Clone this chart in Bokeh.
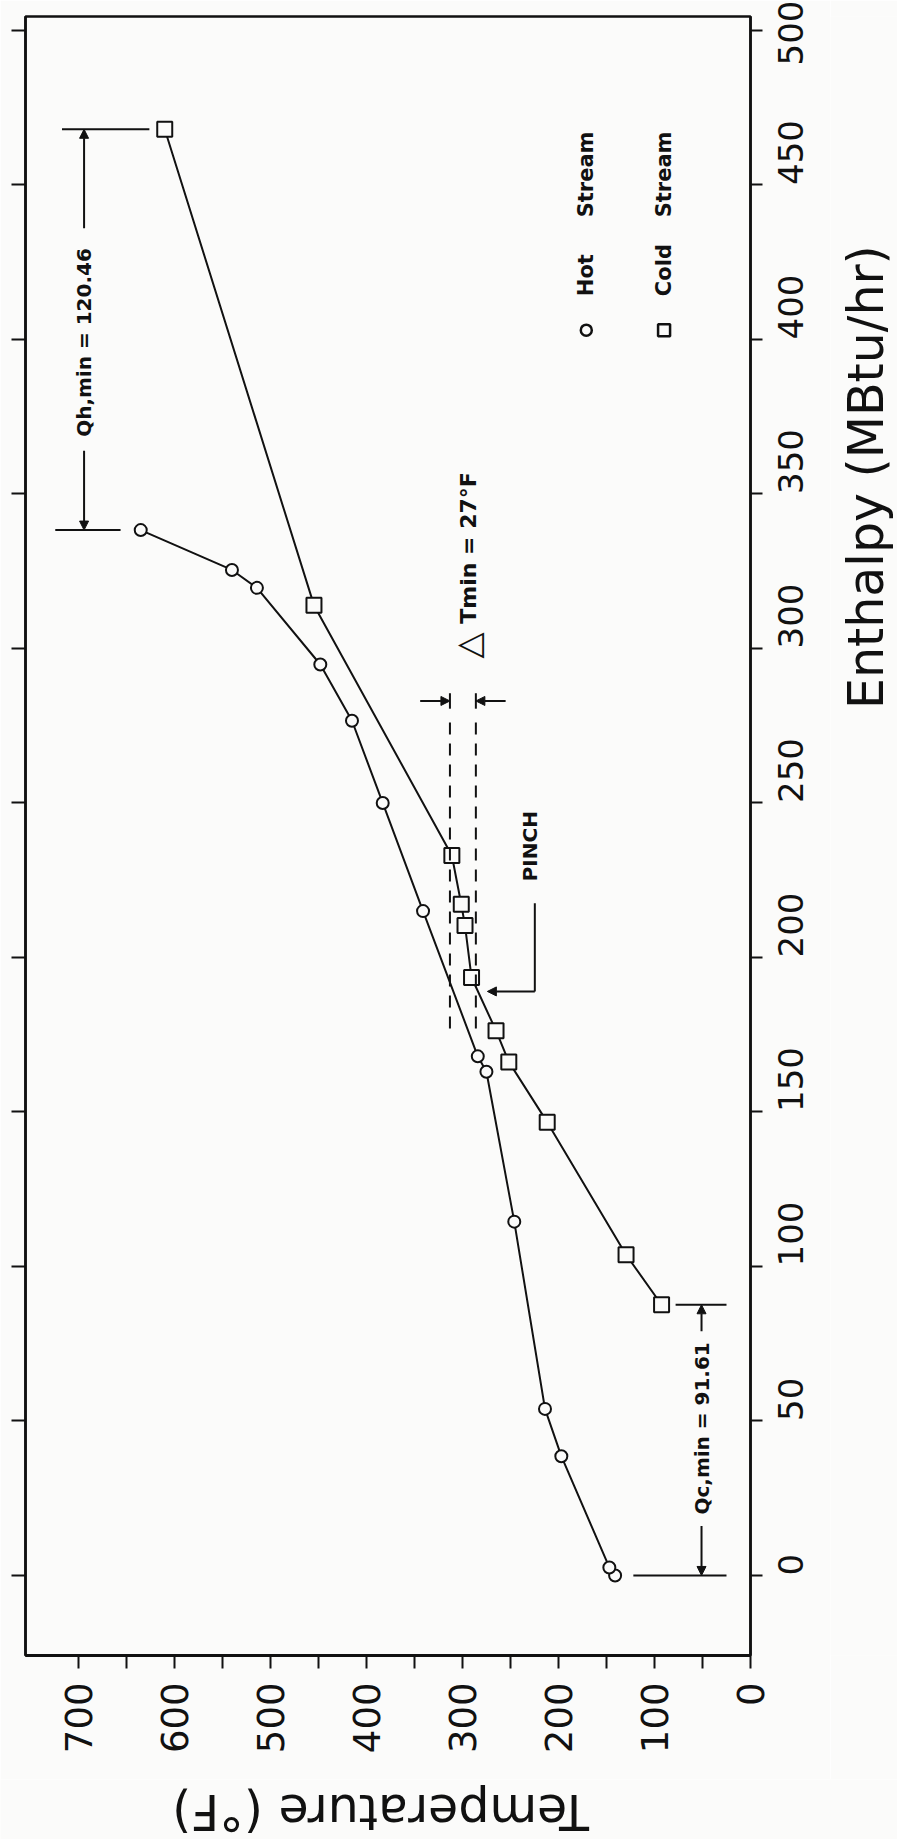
import math
from bokeh.plotting import figure
from bokeh.layouts import row, column
from bokeh.models import Range1d, LinearAxis, FixedTicker, Label, Arrow, NormalHead
from bokeh.embed import file_html
from bokeh.resources import INLINE

# ---------------- data ----------------
hot_enthalpy = [0, 2.6, 38.6, 53.9, 114.5, 163, 168, 215, 250, 276.6, 294.8, 319.6, 325.4, 338.3]
hot_temp = [141, 147, 197, 214, 246, 275, 284, 341, 383, 415, 448, 514, 540, 635]

cold_enthalpy = [87.6, 103.8, 146.7, 166.2, 176.3, 193.5, 210.3, 217.2, 233, 314, 468]
cold_temp = [92.6, 129.6, 211.7, 251.7, 265, 290.5, 297.3, 301.2, 311, 454.6, 610]

temp_ticks = [0, 100, 200, 300, 400, 500, 600, 700]
temp_minor_ticks = [50, 150, 250, 350, 450, 550, 650]
enthalpy_ticks = [0, 50, 100, 150, 200, 250, 300, 350, 400, 450, 500]

# pinch / minimum approach temperatures
pinch_temps = [313, 286]          # dashed lines, delta = 27 F
pinch_span = [177, 276]           # enthalpy extent of dashed lines
qh_levels = [468, 338.3]          # Qh,min bracket (cold top, hot top)
qc_levels = [87.6, 0]             # Qc,min bracket (cold bottom, hot bottom)

BG = "#fbfbfa"
INK = "#111111"

TOTAL_W, TOTAL_H = 897, 1839
MAIN_W = 830
TITLE_W = TOTAL_W - MAIN_W
BOTTOM_H = 60
MAIN_H = TOTAL_H - BOTTOM_H

p = figure(width=MAIN_W, height=MAIN_H,
           x_range=Range1d(755, 0), y_range=Range1d(-25.9, 504.5),
           x_axis_location=None, y_axis_location=None,
           output_backend="svg", toolbar_location=None,
           min_border_left=25, min_border_right=MAIN_W - 25 - 725,
           min_border_top=16, min_border_bottom=MAIN_H - 16 - 1639,
           background_fill_color=BG, border_fill_color=BG,
           outline_line_color=INK, outline_line_width=2.5)
p.grid.visible = False

bottom = LinearAxis(ticker=FixedTicker(ticks=temp_ticks, minor_ticks=temp_minor_ticks),
                    major_label_orientation=math.pi / 2,
                    major_label_text_font="DejaVu Sans", major_label_text_font_size="37px",
                    major_label_text_color=INK, major_label_standoff=14,
                    major_tick_out=13, major_tick_in=0, minor_tick_out=13, minor_tick_in=0,
                    axis_line_width=3, axis_line_color=INK,
                    major_tick_line_width=2, minor_tick_line_width=2,
                    major_tick_line_color=INK, minor_tick_line_color=INK)
p.add_layout(bottom, "below")

right = LinearAxis(ticker=FixedTicker(ticks=enthalpy_ticks),
                   major_label_orientation=math.pi / 2,
                   major_label_text_font="DejaVu Sans", major_label_text_font_size="34px",
                   major_label_text_color=INK, major_label_standoff=28,
                   major_tick_out=12, major_tick_in=0, minor_tick_out=0, minor_tick_in=0,
                   axis_line_width=2.5, axis_line_color=INK,
                   major_tick_line_width=2, major_tick_line_color=INK)
p.add_layout(right, "right")

left = LinearAxis(ticker=FixedTicker(ticks=enthalpy_ticks),
                  major_label_text_color=None, major_label_text_font_size="2px",
                  major_label_standoff=0,
                  major_tick_out=14, major_tick_in=0, minor_tick_out=0, minor_tick_in=0,
                  axis_line_width=2.5, axis_line_color=INK,
                  major_tick_line_width=2, major_tick_line_color=INK)
p.add_layout(left, "left")

# ---------------- curves ----------------
p.line(hot_temp, hot_enthalpy, line_color=INK, line_width=2)
p.scatter(hot_temp, hot_enthalpy, marker="circle", size=12,
          fill_color=BG, line_color=INK, line_width=2)
p.line(cold_temp, cold_enthalpy, line_color=INK, line_width=2)
p.scatter(cold_temp, cold_enthalpy, marker="square", size=15,
          fill_color=BG, line_color=INK, line_width=2)

# ---------------- pinch dashed lines and delta T ----------------
p.segment(x0=pinch_temps, y0=[pinch_span[0]] * 2, x1=pinch_temps, y1=[pinch_span[1]] * 2,
          line_color=INK, line_width=2, line_dash="12 9")
dt_level = 283
p.segment(x0=pinch_temps, y0=[dt_level - 2.5] * 2, x1=pinch_temps, y1=[dt_level + 2.5] * 2,
          line_color=INK, line_width=2)
head = dict(size=9, fill_color=INK, line_color=INK)
p.add_layout(Arrow(end=NormalHead(**head), x_start=pinch_temps[0] + 31, y_start=dt_level,
                   x_end=pinch_temps[0], y_end=dt_level, line_color=INK, line_width=2))
p.add_layout(Arrow(end=NormalHead(**head), x_start=pinch_temps[1] - 31, y_start=dt_level,
                   x_end=pinch_temps[1], y_end=dt_level, line_color=INK, line_width=2))
p.add_layout(Label(x=294, y=301, text="△", angle=math.pi / 2, text_align="center",
                   text_baseline="middle", text_font="DejaVu Sans", text_font_size="34px",
                   text_color=INK))
p.add_layout(Label(x=294, y=308, text="Tmin = 27°F", angle=math.pi / 2, text_align="left",
                   text_baseline="middle", text_font="DejaVu Sans", text_font_size="22px",
                   text_font_style="bold", text_color=INK))

# PINCH label with leader
p.add_layout(Label(x=230, y=236, text="PINCH", angle=math.pi / 2, text_align="center",
                   text_baseline="middle", text_font="DejaVu Sans", text_font_size="20px",
                   text_font_style="bold", text_color=INK))
p.segment(x0=[224.6], y0=[217.5], x1=[224.6], y1=[189], line_color=INK, line_width=2)
p.add_layout(Arrow(end=NormalHead(**head), x_start=224.6, y_start=189, x_end=274, y_end=189,
                   line_color=INK, line_width=2))

# ---------------- Qh,min bracket ----------------
p.segment(x0=[717, 724], y0=qh_levels, x1=[626, 656], y1=qh_levels, line_color=INK, line_width=2)
p.add_layout(Arrow(end=NormalHead(**head), x_start=694, y_start=436, x_end=694, y_end=qh_levels[0],
                   line_color=INK, line_width=2))
p.add_layout(Arrow(end=NormalHead(**head), x_start=694, y_start=364, x_end=694, y_end=qh_levels[1],
                   line_color=INK, line_width=2))
p.add_layout(Label(x=694, y=399, text="Qh,min = 120.46", angle=math.pi / 2, text_align="center",
                   text_baseline="middle", text_font="DejaVu Sans", text_font_size="20px",
                   text_font_style="bold", text_color=INK))

# ---------------- Qc,min bracket ----------------
p.segment(x0=[78, 122], y0=qc_levels, x1=[25, 25], y1=qc_levels, line_color=INK, line_width=2)
p.add_layout(Arrow(end=NormalHead(**head), x_start=51, y_start=79, x_end=51, y_end=qc_levels[0],
                   line_color=INK, line_width=2))
p.add_layout(Arrow(end=NormalHead(**head), x_start=51, y_start=16, x_end=51, y_end=qc_levels[1],
                   line_color=INK, line_width=2))
p.add_layout(Label(x=51, y=47.6, text="Qc,min = 91.61", angle=math.pi / 2, text_align="center",
                   text_baseline="middle", text_font="DejaVu Sans", text_font_size="20px",
                   text_font_style="bold", text_color=INK))

# ---------------- legend ----------------
legend_temps = [171, 90]
legend_level = 403
legend_words = [["Hot", "Stream"], ["Cold", "Stream"]]
word_levels = [414, 439.5]
p.scatter(x=[legend_temps[0]], y=[legend_level], marker="circle", size=11,
          fill_color=BG, line_color=INK, line_width=2.5)
p.scatter(x=[legend_temps[1]], y=[legend_level], marker="square", size=12,
          fill_color=BG, line_color=INK, line_width=2.5)
for tx, words in zip(legend_temps, legend_words):
    for lvl, w in zip(word_levels, words):
        p.add_layout(Label(x=tx, y=lvl, text=w, angle=math.pi / 2, text_align="left",
                           text_baseline="middle", text_font="DejaVu Sans",
                           text_font_size="21px", text_font_style="bold", text_color=INK))

# ---------------- enthalpy axis title (narrow strip to the right) ----------------
t = figure(width=TITLE_W, height=MAIN_H, x_range=Range1d(0, TITLE_W), y_range=Range1d(MAIN_H, 0),
           x_axis_location=None, y_axis_location=None, min_border=0,
           output_backend="svg", toolbar_location=None,
           background_fill_color=BG, border_fill_color=BG, outline_line_color=None)
t.grid.visible = False
t.add_layout(Label(x=36, y=500, text="Enthalpy (MBtu/hr)", angle=math.pi / 2,
                   text_align="center", text_baseline="middle", text_font="DejaVu Sans",
                   text_font_size="49px", text_color=INK))

# ---------------- temperature axis title (strip below) ----------------
b = figure(width=TOTAL_W, height=BOTTOM_H, x_range=Range1d(0, TOTAL_W),
           y_range=Range1d(BOTTOM_H, 0),
           x_axis_location=None, y_axis_location=None, min_border=0,
           output_backend="svg", toolbar_location=None,
           background_fill_color=BG, border_fill_color=BG, outline_line_color=None)
b.grid.visible = False
b.add_layout(Label(x=380, y=32, text="Temperature (°F)", angle=math.pi,
                   text_align="center", text_baseline="middle", text_font="DejaVu Sans",
                   text_font_size="49px", text_color=INK))

layout = column(row(p, t, spacing=0), b, spacing=0)
open("out.html", "w").write(file_html(layout, INLINE))
